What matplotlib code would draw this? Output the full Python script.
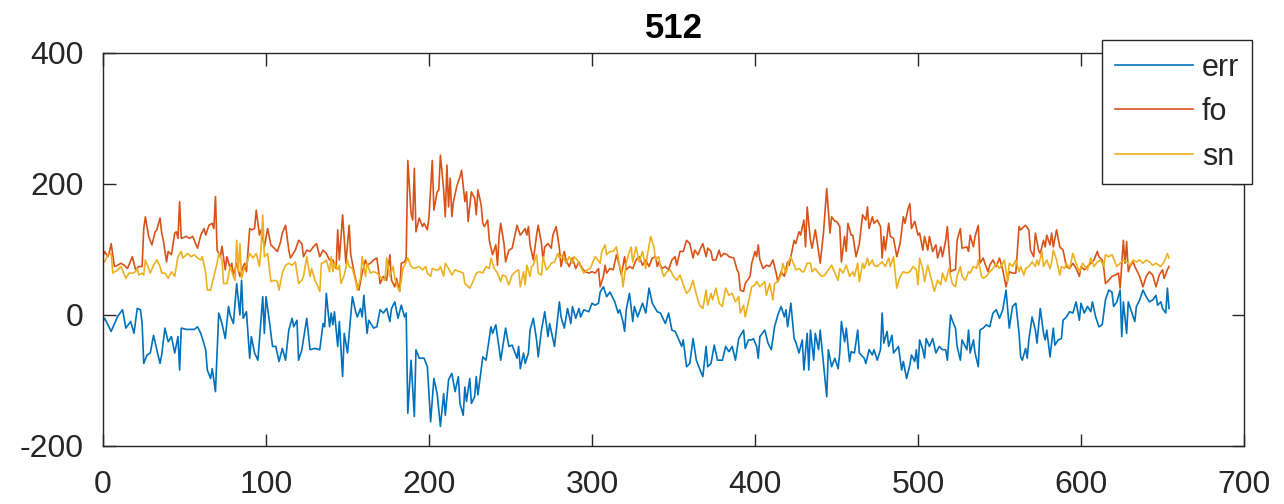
import matplotlib
matplotlib.use("Agg")
import matplotlib.pyplot as plt

# valores (x, y)
err = [(0,-10),(1,-5),(5,-25),(9,-2),(12,8),(14,-20),(17,-10),(19,-28),(21,10),(23,8),(24,-13),(25,-74),
       (27,-61),(29,-58),(31,-31),(33,-53),(35,-74),(36,-61),(38,-20),(40,-41),(42,-33),(44,-58),(46,-33),
       (47,-84),(48,-20),(51,-22),(56,-22),(58,-18),(60,-28),(63,-53),(64,-84),(66,-97),(67,-82),(69,-117),
       (71,3),(73,-13),(75,-36),(77,13),(78,0),(80,-13),(82,48),(84,0),(85,53),(86,-5),(88,5),(90,-66),
       (91,-33),(93,-58),(95,-69),(96,-38),(98,28),(99,-28),(100,28),(102,-8),(104,-48),(106,-48),(108,-71),
       (110,-51),(112,-69),(114,-23),(116,-5),(117,-18),(119,-8),(120,-69),(122,-53),(125,-5),(127,-53),
       (130,-51),(133,-53),(135,-13),(136,-18),(137,33),(139,-18),(140,3),(141,-15),(142,5),(144,-48),
       (145,-10),(147,-94),(148,-28),(150,-58),(153,28),(155,5),(156,-3),(158,10),(159,-3),(160,30),
       (162,-28),(163,-8),(166,-20),(168,-18),(170,8),(172,3),(174,10),(176,-10),(177,10),(179,20),(181,-5),
       (183,15),(185,-3),(186,3),(187,-150),(189,-69),(191,-155),(192,-53),(194,-66),(197,-66),(199,-79),
       (201,-163),(203,-97),(205,-120),(207,-170),(209,-120),(210,-153),(212,-99),(214,-89),(216,-117),
       (218,-94),(219,-135),(221,-153),(222,-110),(223,-132),(225,-97),(226,-135),(228,-125),(229,-94),
       (230,-122),(233,-64),(235,-69),(238,-18),(239,-28),(241,-15),(244,-69),(247,-20),(249,-48),(251,-46),
       (254,-66),(255,-48),(256,-82),(258,-58),(259,-74),(261,-58),(262,-23),(264,-5),(266,-38),(267,-64),
       (269,-23),(271,5),(273,-33),(274,-13),(277,-48),(280,20),(281,-3),(283,-20),(285,10),(287,-13),
       (288,13),(290,-5),(292,10),(293,-3),(295,8),(298,5),(300,18),(302,15),(304,18),(305,35),(307,43),
       (309,28),(311,35),(314,20),(316,3),(317,8),(319,-10),(320,-25),(321,8),(323,33),(325,-10),(326,13),
       (328,-3),(331,18),(333,3),(335,41),(337,18),(340,5),(342,3),(345,-13),(347,3),(349,-23),(351,-25),
       (353,-36),(355,-48),(356,-38),(358,-79),(360,-74),(362,-36),(364,-69),(366,-82),(368,-94),(370,-48),
       (371,-79),(373,-74),(375,-46),(377,-69),(380,-69),(382,-48),(384,-56),(386,-48),(388,-69),(390,-36),
       (393,-23),(394,-51),(396,-38),(398,-38),(399,-36),(401,-48),(402,-66),(403,-33),(406,-23),(408,-43),
       (410,-53),(411,-36),(412,-18),(414,0),(416,13),(418,-3),(419,8),(420,-18),(422,18),(424,-36),
       (425,-41),(427,-58),(429,-38),(430,-84),(432,-28),(433,-84),(434,-23),(436,-69),(437,-28),(439,-53),
       (440,-23),(442,-74),(444,-125),(445,-53),(447,-79),(449,-66),(451,-82),(452,-58),(453,-10),(455,-41),
       (456,-20),(458,-71),(459,-56),(461,-58),(463,-23),(464,-58),(467,-66),(468,-74),(470,-53),(472,-61),
       (473,-53),(475,-69),(477,-53),(478,3),(479,-43),(481,-25),(482,-48),(484,-31),(485,-58),(488,-48),
       (490,-84),(491,-71),(493,-97),(495,-76),(496,-61),(498,-71),(499,-53),(500,-82),(501,-38),(503,-53),
       (504,-66),(505,-36),(507,-48),(509,-36),(511,-58),(513,-48),(515,-53),(517,-53),(518,-69),(520,0),
       (521,-8),(523,-20),(524,-48),(526,-69),(527,-38),(530,-53),(531,-23),(532,-58),(534,-38),(535,-58),
       (537,-79),(538,-23),(540,-20),(542,-15),(544,-18),(546,3),(548,8),(550,-5),(552,8),(554,38),(556,-20),
       (558,13),(560,18),(562,-28),(563,-64),(564,-69),(566,-51),(567,-66),(568,-38),(570,-3),(572,-23),
       (573,-43),(575,10),(577,-28),(578,-38),(579,-23),(581,-64),(583,-20),(584,-46),(586,-38),(588,-36),
       (589,-8),(591,-3),(593,5),(595,3),(597,20),(599,-8),(600,18),(602,3),(604,13),(606,5),(607,20),
       (609,-3),(611,-18),(613,-15),(615,23),(617,38),(619,35),(620,13),(622,20),(624,38),(625,-33),(626,20),
       (628,-28),(629,20),(631,5),(633,-10),(634,13),(636,23),(638,38),(640,28),(642,20),(644,23),(646,30),
       (647,15),(649,20),(650,10),(652,3),(653,41),(654,10)]

fo = [(0,90),(1,97),(3,89),(4,97),(5,109),(7,74),(9,76),(11,79),(13,76),(15,71),(18,89),(20,69),(22,74),
      (24,74),(25,132),(26,150),(28,120),(30,107),(32,127),(33,130),(35,148),(36,125),(37,114),(39,81),
      (40,97),(42,92),(44,125),(45,127),(46,117),(47,173),(48,117),(51,120),(53,117),(55,120),(56,114),
      (58,102),(60,122),(62,132),(63,122),(65,137),(67,140),(68,132),(69,181),(70,99),(72,89),(73,105),
      (75,69),(76,89),(78,71),(79,79),(80,61),(82,79),(84,59),(86,74),(87,79),(88,66),(90,132),(91,130),
      (93,132),(94,160),(96,122),(97,130),(99,104),(101,132),(103,107),(105,102),(107,97),(109,112),
      (110,125),(112,137),(114,99),(115,87),(118,99),(120,114),(122,109),(123,89),(125,99),(127,97),
      (129,104),(131,109),(133,89),(135,99),(137,94),(139,84),(141,84),(143,71),(144,130),(145,84),
      (147,153),(149,79),(151,137),(152,92),(154,66),(156,43),(157,38),(159,64),(161,84),(162,76),(164,79),
      (166,84),(168,87),(169,69),(170,48),(172,59),(174,53),(176,92),(177,53),(179,43),(180,56),(182,36),
      (183,79),(185,81),(186,87),(187,236),(189,155),(190,145),(191,224),(192,127),(194,148),(196,135),
      (197,140),(199,130),(200,150),(202,236),(203,160),(205,188),(206,191),(207,244),(209,191),(210,150),
      (211,229),(212,165),(213,209),(214,150),(215,173),(217,196),(218,204),(219,211),(220,221),(222,173),
      (223,188),(224,143),(226,188),(228,178),(229,153),(230,191),(232,168),(233,140),(234,135),(236,145),
      (237,114),(239,92),(241,107),(242,76),(243,120),(244,140),(246,109),(247,81),(249,99),(251,102),
      (253,125),(254,137),(256,122),(257,125),(259,132),(260,122),(261,135),(262,107),(264,84),(266,122),
      (267,137),(269,109),(270,84),(271,104),(273,109),(275,102),(276,122),(278,135),(280,102),(281,74),
      (283,97),(284,84),(286,74),(288,87),(290,71),(292,81),(294,71),(296,66),(298,64),(300,66),(302,64),
      (304,71),(305,43),(307,59),(308,76),(309,64),(311,71),(313,69),(315,92),(317,74),(318,61),(320,89),
      (321,69),(323,74),(325,71),(327,84),(329,89),(331,76),(333,84),(335,74),(337,87),(339,89),(340,74),
      (341,81),(343,71),(345,74),(347,69),(349,84),(351,89),(352,76),(354,97),(356,97),(358,114),(360,109),
      (362,87),(363,99),(365,92),(367,104),(368,109),(370,89),(371,102),(373,97),(374,84),(376,84),(378,99),
      (379,89),(381,94),(383,92),(384,89),(387,87),(389,69),(390,64),(391,38),(393,36),(394,48),(397,59),
      (398,79),(400,97),(401,89),(402,107),(403,84),(405,71),(407,76),(409,74),(411,84),(413,64),(414,51),
      (416,66),(418,59),(420,81),(421,76),(422,89),(424,114),(425,109),(427,127),(428,122),(430,145),
      (431,104),(432,165),(434,114),(435,102),(437,130),(438,114),(440,79),(442,125),(444,193),(446,125),
      (447,150),(449,143),(450,143),(452,135),(453,81),(455,120),(456,97),(457,140),(459,122),(460,122),
      (462,89),(464,109),(466,153),(468,145),(469,165),(470,132),(472,150),(473,140),(475,145),(477,135),
      (478,87),(479,120),(480,99),(482,140),(483,120),(485,117),(487,89),(489,109),(491,150),(492,140),
      (494,163),(495,170),(496,132),(498,143),(500,122),(501,125),(503,99),(504,120),(506,99),(507,120),
      (509,97),(511,107),(512,87),(514,104),(515,89),(517,114),(518,135),(520,66),(522,69),(523,69),
      (524,114),(526,132),(527,102),(530,104),(531,97),(532,122),(534,104),(535,120),(537,137),(538,79),
      (540,87),(541,79),(543,66),(544,76),(546,84),(548,74),(550,87),(552,69),(554,43),(556,66),(558,64),
      (560,64),(562,135),(563,130),(565,135),(566,137),(568,130),(569,99),(571,89),(572,125),(574,99),
      (575,94),(577,114),(578,104),(579,122),(581,107),(582,125),(583,104),(585,130),(587,104),(589,99),
      (591,74),(593,71),(595,79),(597,71),(599,59),(600,74),(602,69),(604,74),(606,79),(608,84),(610,97),
      (611,89),(613,84),(614,71),(615,48),(617,53),(619,59),(621,61),(623,64),(624,41),(626,114),(627,79),
      (628,112),(629,66),(630,74),(632,81),(633,74),(635,64),(636,59),(638,43),(640,59),(642,66),(644,61),
      (646,43),(648,61),(650,69),(651,56),(653,69),(654,74)]

sn = [(0,85),(1,81),(3,92),(5,94),(6,64),(9,69),(11,74),(14,56),(16,64),(18,64),(20,66),(21,71),(22,61),
      (24,64),(25,61),(26,84),(28,71),(29,64),(31,76),(33,84),(35,74),(36,64),(38,64),(40,56),(42,66),
      (44,59),(46,89),(48,97),(49,87),(52,94),(54,89),(56,92),(58,87),(60,84),(61,89),(63,64),(64,38),
      (66,38),(68,59),(70,79),(71,94),(73,84),(74,48),(76,48),(78,74),(80,59),(81,53),(82,114),(83,66),
      (84,109),(85,56),(87,74),(88,76),(90,94),(92,87),(94,94),(96,74),(97,104),(98,153),(99,89),(101,94),
      (103,51),(105,53),(107,51),(108,38),(110,64),(112,76),(114,79),(116,76),(118,81),(120,48),(122,53),
      (123,59),(125,89),(127,59),(128,71),(130,53),(131,48),(133,36),(134,79),(136,81),(137,84),(139,66),
      (140,89),(141,66),(142,79),(144,69),(145,76),(146,48),(148,61),(150,84),(151,74),(153,71),(155,51),
      (156,38),(158,56),(159,89),(161,59),(162,79),(164,64),(166,66),(168,64),(170,59),(171,56),(173,53),
      (174,87),(176,59),(178,74),(179,56),(181,41),(182,36),(184,71),(186,81),(187,87),(189,74),(191,71),
      (194,74),(196,69),(198,74),(199,64),(201,59),(202,71),(204,69),(206,69),(207,74),(209,59),(210,79),
      (212,71),(214,61),(216,69),(219,66),(221,64),(222,48),(225,41),(227,51),(229,64),(231,66),(233,64),
      (235,74),(237,71),(238,87),(240,71),(242,64),(244,51),(245,61),(247,59),(249,46),(251,61),(253,66),
      (255,69),(256,43),(258,66),(259,46),(260,76),(262,59),(263,74),(264,76),(266,92),(267,64),(269,61),
      (270,89),(272,69),(273,71),(275,79),(277,81),(279,94),(280,87),(282,92),(284,79),(286,89),(288,79),
      (289,89),(291,84),(293,74),(295,64),(297,69),(299,71),(301,84),(302,89),(305,79),(306,97),(308,107),
      (309,92),(311,97),(313,97),(315,104),(317,74),(318,69),(319,43),(321,79),(322,89),(324,104),(325,81),
      (327,104),(329,81),(331,97),(332,84),(333,71),(334,92),(336,120),(338,104),(339,84),(341,89),(342,74),
      (344,59),(346,66),(348,69),(350,59),(352,53),(354,61),(356,46),(358,33),(360,38),(362,53),(363,41),
      (365,23),(366,15),(368,10),(370,38),(371,15),(373,33),(374,23),(376,41),(378,18),(380,13),(382,41),
      (384,30),(386,33),(388,20),(390,28),(391,3),(393,15),(394,-3),(396,20),(398,43),(400,46),(401,51),
      (403,43),(406,51),(407,30),(409,48),(411,23),(412,48),(414,51),(416,61),(417,79),(419,64),(421,84),
      (422,89),(425,69),(427,71),(429,66),(430,66),(432,79),(434,79),(435,66),(437,71),(439,64),(441,59),
      (443,61),(445,69),(447,76),(449,64),(451,53),(452,71),(454,64),(456,76),(458,59),(460,66),(461,59),
      (463,79),(464,51),(466,79),(467,71),(469,87),(470,76),(472,84),(473,76),(475,74),(477,79),(478,81),
      (480,74),(482,87),(483,74),(485,89),(486,64),(487,41),(489,59),(491,66),(493,64),(495,66),(497,74),
      (499,69),(500,46),(501,87),(503,69),(504,51),(506,76),(507,66),(509,46),(510,36),(512,53),(514,46),
      (515,64),(517,51),(519,71),(521,48),(523,43),(524,59),(526,74),(527,59),(529,53),(531,66),(532,64),
      (534,74),(536,71),(537,84),(539,59),(540,56),(542,59),(544,66),(546,71),(548,79),(550,71),(552,79),
      (553,84),(555,51),(556,79),(558,74),(560,84),(562,66),(563,74),(565,61),(566,71),(568,74),(570,81),
      (572,74),(573,84),(574,76),(576,97),(577,74),(579,84),(581,71),(582,81),(583,99),(585,84),(587,61),
      (588,74),(590,71),(591,79),(593,71),(595,94),(597,79),(599,66),(601,79),(604,69),(606,87),(608,74),
      (610,81),(612,84),(614,74),(615,92),(617,89),(619,92),(622,74),(624,79),(626,84),(628,81),(630,76),
      (632,84),(634,81),(636,84),(638,79),(640,84),(642,81),(644,76),(646,79),(649,74),(651,81),(653,94),
      (654,87)]

series_names = ["err", "fo", "sn"]
colores = ["#0072BD", "#D95319", "#EDB120"]
x_ticks = [0, 100, 200, 300, 400, 500, 600, 700]
y_ticks = [-200, 0, 200, 400]

plt.rcParams['font.family'] = ['Liberation Sans', 'DejaVu Sans']
plt.rcParams['axes.unicode_minus'] = False
gris = "#262626"

fig = plt.figure(figsize=(12.84, 5.04), dpi=100)
ax = fig.add_axes([103/1284, 1-446/504, (1244-103)/1284, (446-53)/504])

for datos, nombre, color in zip([err, fo, sn], series_names, colores):
    xs = [p[0] for p in datos]
    ys = [p[1] for p in datos]
    ax.plot(xs, ys, color=color, lw=1.2, label=nombre)

ax.set_xlim(0, 700)
ax.set_ylim(-200, 400)
ax.set_xticks(x_ticks)
ax.set_yticks(y_ticks)
ax.tick_params(direction='in', length=9, width=1, colors=gris, labelsize=23,
               top=True, right=True)
ax.tick_params(axis='x', pad=17)
ax.tick_params(axis='y', pad=14)
for s in ax.spines.values():
    s.set_color(gris)
    s.set_linewidth(1)

ax.set_title("512", fontsize=25, fontweight='bold', color='black', pad=11)

leg = ax.legend(loc='upper right', bbox_to_anchor=(1252/1284, 1-40/504),
                bbox_transform=fig.transFigure, borderaxespad=0, fontsize=22,
                fancybox=False, framealpha=1, edgecolor=gris,
                handlelength=2.55, handletextpad=0.3, labelspacing=0.47,
                borderpad=0.42)
leg.get_frame().set_linewidth(1)
for t in leg.get_texts():
    t.set_color(gris)

fig.savefig("out.png", dpi=100)
